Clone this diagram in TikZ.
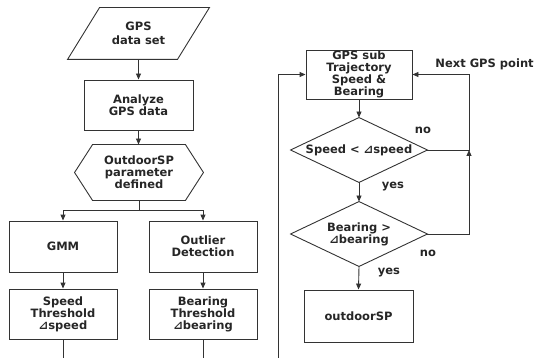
\documentclass[tikz,border=0pt]{standalone}
\usepackage{fontspec}
\setmainfont{DejaVu Sans}
\newfontfamily\symfont{DejaVu Sans}
\usetikzlibrary{arrows.meta}
\newcommand{\tri}{{\symfont\char"22BF}}
\begin{document}
\begin{tikzpicture}[x=1pt,y=-1pt,
  line width=0.9pt, draw=black!80,
  every node/.style={font=\bfseries\fontsize{11.5}{12}\selectfont, align=center, inner sep=0pt, text=black!85},
  boxnode/.style={draw, minimum width=#1, minimum height=50pt},
  blank/.style n args={2}{minimum width=#1, minimum height=#2},
  arr/.style={-{Triangle[length=6pt,width=5pt]}},
  lbl/.style={font=\bfseries\fontsize{11.5}{12}\selectfont}]
\useasboundingbox (0,0) rectangle (535,358);

% left column
\node[blank={141pt}{51pt}, font=\bfseries\fontsize{11.5}{14}\selectfont] (data) at (138.5,33.5) {GPS\\data set};
\draw ([xshift=32pt]data.north west) -- (data.north east)
      -- ([xshift=-32pt]data.south east) -- (data.south west) -- cycle;
\node[boxnode=109pt] (ana) at (138.5,105) {Analyze\\GPS data};
\node[blank={128pt}{55pt}] (hex) at (139,172.5) {OutdoorSP\\parameter\\defined};
\draw ([xshift=18pt]hex.north west) -- ([xshift=-18pt]hex.north east) -- (hex.east)
      -- ([xshift=-18pt]hex.south east) -- ([xshift=18pt]hex.south west) -- (hex.west) -- cycle;
\node[boxnode=108pt, minimum height=51pt] (gmm) at (63,246.5) {GMM};
\node[boxnode=108pt, minimum height=51pt] (outl) at (203,246.5) {Outlier\\Detection};
\node[boxnode=108pt] (spth) at (63,314) {Speed\\Threshold\\\tri speed};
\node[boxnode=108pt] (bgth) at (203,314) {Bearing\\Threshold\\\tri bearing};
\coordinate (j) at (139,210);
\coordinate (sEnd) at (63,358);
\coordinate (bEnd) at (203,358);

\draw[arr] (data.south -| ana.north) -- (ana.north);
\draw[arr] (ana.south) -- (ana.south |- hex.north);
\draw (hex.south) -- (j);
\draw[arr] (j) -| (gmm.north);
\draw[arr] (j) -| (outl.north);
\draw[arr] (gmm) -- (spth);
\draw[arr] (outl) -- (bgth);
\draw (spth) -- (sEnd);
\draw (bgth) -- (bEnd);

% right column
\node[boxnode=106pt, minimum height=49pt] (sub) at (359,74.5) {GPS sub\\Trajectory\\Speed \&\\Bearing};
\node[blank={136pt}{64pt}] (spd) at (359,150) {Speed < \tri speed};
\draw (spd.north) -- (spd.east) -- (spd.south) -- (spd.west) -- cycle;
\node[blank={136pt}{64pt}] (brg) at (359,234) {Bearing >\\\tri bearing};
\draw (brg.north) -- (brg.east) -- (brg.south) -- (brg.west) -- cycle;
\node[boxnode=109pt, minimum height=52pt] (osp) at (358.5,316) {outdoorSP};
\coordinate (loopL) at (278,358);
\coordinate (rj) at (469,150);

\draw[arr] (sub) -- (spd.north);
\draw[arr] (spd.south) -- (brg.north);
\draw[arr] (brg.south) -- (osp.north);
\draw[arr] (loopL) |- (sub.west);
\draw[arr] (brg.east) -| (rj);
\draw[arr] (spd.east) -- (rj) |- (sub.east);

\node[lbl, anchor=west] (nextlbl) at (435,64) {Next GPS point};
\node[lbl] (no1) at (423,130) {no};
\node[lbl] (no2) at (428,253) {no};
\node[lbl] (yes1) at (393,187) {yes};
\node[lbl] (yes2) at (389,273) {yes};
\end{tikzpicture}
\end{document}
